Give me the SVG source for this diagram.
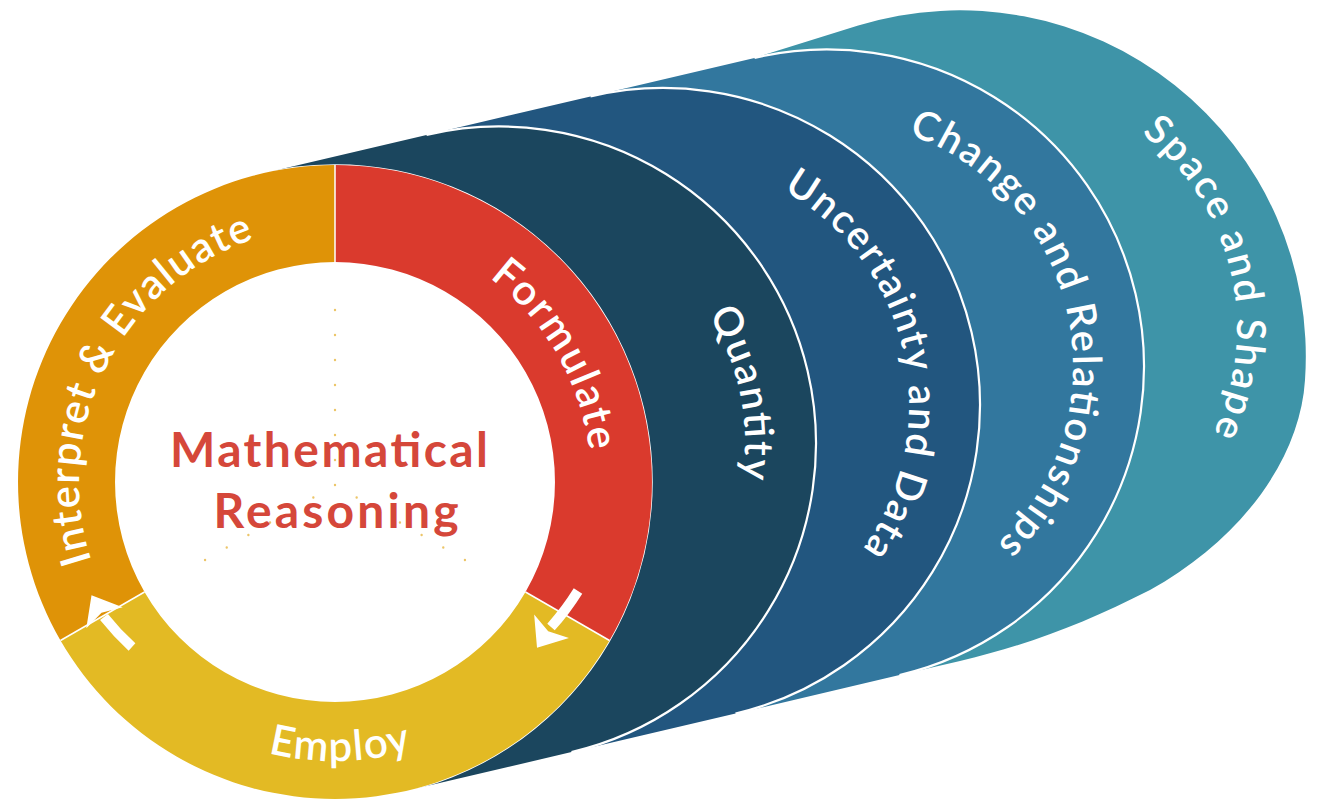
<svg xmlns="http://www.w3.org/2000/svg" width="1327" height="800" viewBox="0 0 1327 800">
  <style>
    .lbl{font-family:Lato,"Open Sans","Liberation Sans",sans-serif;font-weight:600;fill:#ffffff}
    .band-lbl{font-size:40px}
    .ring-lbl{font-size:42px}
    .edge{fill:none;stroke:#ffffff;stroke-width:2.2}
    .sep{stroke:#ffffff;stroke-width:1.5}
    .title{font-family:Lato,"Open Sans","Liberation Sans",sans-serif;font-weight:700;font-size:48px;fill:#D5473A;text-anchor:middle}
    .dots{fill:none;stroke:#E6B236;stroke-width:2.4;stroke-linecap:round;stroke-dasharray:0 25;opacity:.75}
    .shaft{fill:none;stroke:#ffffff;stroke-width:10}
  </style>
  <defs>
    <!-- arrowhead pointing along +x, tip at x=25 -->
    <path id="arrowhead" d="M25,0 L-1,-21 L5,0 L-1,21 Z" fill="#ffffff"/>
    <!-- label baselines -->
    <path id="tp-quantity" d="M615.4,226.8 A246,246 0 0 1 692.2,595.8"/>
    <path id="tp-uncertainty" d="M737.0,170.4 A246,246 0 0 1 829.2,586.4"/>
    <path id="tp-change" d="M860.2,122.7 A246,246 0 0 1 958.3,574.5"/>
    <path id="tp-space" d="M1060.9,92.1 A246,246 0 0 1 1160.3,506.4"/>
    <path id="tp-formulate" d="M379.5,229.9 A256,256 0 0 1 575.6,569.6"/>
    <path id="tp-interpret" d="M120.8,622.2 A256,256 0 0 1 320.7,226.4"/>
    <path id="tp-employ" d="M124.4,665.1 A279,279 0 0 0 551.8,657.6"/>
  </defs>

  <!-- content bands, back to front -->
  <g id="band-space">
    <path d="M754.5,57.9 L858.2,25.6 A346,346 0 0 1 1305,380 C1300,460 1240,540 1150,590 C1085,623 1030,644.5 960,660.9 L899.5,675.1 Z" fill="#3E94A8"/>
    <text class="lbl band-lbl"><textPath href="#tp-space" startOffset="50%" text-anchor="middle" textLength="333" lengthAdjust="spacing">Space and Shape</textPath></text>
  </g>
  <g id="band-change">
    <path d="M590.5,96.4 L754.5,57.9 A317,317 0 1 1 899.5,675.1 L735.5,713.6 Z" fill="#32779E"/>
    <path class="edge" d="M754.5,57.9 A317,317 0 1 1 899.5,675.1"/>
    <text class="lbl band-lbl"><textPath href="#tp-change" startOffset="50%" text-anchor="middle" textLength="502" lengthAdjust="spacing">Change and Relationships</textPath></text>
  </g>
  <g id="band-uncertainty">
    <path d="M426.5,134.9 L590.5,96.4 A317,317 0 1 1 735.5,713.6 L571.5,752.1 Z" fill="#22567F"/>
    <path class="edge" d="M590.5,96.4 A317,317 0 1 1 735.5,713.6"/>
    <text class="lbl band-lbl"><textPath href="#tp-uncertainty" startOffset="50%" text-anchor="middle" textLength="415" lengthAdjust="spacing">Uncertainty and Data</textPath></text>
  </g>
  <g id="band-quantity">
    <path d="M262.5,173.4 L426.5,134.9 A317,317 0 1 1 571.5,752.1 L407.5,790.6 Z" fill="#1B465E"/>
    <path class="edge" d="M426.5,134.9 A317,317 0 1 1 571.5,752.1"/>
    <text class="lbl band-lbl"><textPath href="#tp-quantity" startOffset="50%" text-anchor="middle" textLength="171" lengthAdjust="spacing">Quantity</textPath></text>
  </g>

  <!-- process ring -->
  <g id="ring">
    <circle cx="335" cy="482" r="317" fill="#ffffff" stroke="#ffffff" stroke-width="1.5"/>
    <g id="formulate">
      <path d="M335,165 A317,317 0 0 1 609.5,640.5 L525.5,592 A220,220 0 0 0 335,262 Z" fill="#DA3A2D"/>
      <text class="lbl ring-lbl"><textPath href="#tp-formulate" startOffset="50%" text-anchor="middle" textLength="205" lengthAdjust="spacing">Formulate</textPath></text>
    </g>
    <g id="employ">
      <path d="M609.5,640.5 A317,317 0 0 1 60.5,640.5 L144.5,592 A220,220 0 0 0 525.5,592 Z" fill="#E3BA24"/>
      <text class="lbl ring-lbl"><textPath href="#tp-employ" startOffset="50%" text-anchor="middle" textLength="145" lengthAdjust="spacing">Employ</textPath></text>
    </g>
    <g id="interpret">
      <path d="M60.5,640.5 A317,317 0 0 1 335,165 L335,262 A220,220 0 0 0 144.5,592 Z" fill="#DF9307"/>
      <text class="lbl ring-lbl"><textPath href="#tp-interpret" startOffset="50%" text-anchor="middle" textLength="400" lengthAdjust="spacing">Interpret &amp; Evaluate</textPath></text>
    </g>
    <line class="sep" x1="335" y1="165" x2="335" y2="262"/>
    <line class="sep" x1="609.5" y1="640.5" x2="525.5" y2="592"/>
    <line class="sep" x1="60.5" y1="640.5" x2="144.5" y2="592"/>
  </g>

  <!-- centre -->
  <g id="center">
    <path class="dots" d="M335,485 L335,285 M335,485 L205,560 M335,485 L465,560"/>
    <text class="title" x="329" y="467" textLength="318" lengthAdjust="spacing">Mathematical</text>
    <text class="title" x="336" y="528" textLength="245" lengthAdjust="spacing">Reasoning</text>
  </g>

  <!-- cycle arrows -->
  <g id="connectors">
    <g id="arrow-formulate-employ">
      <path class="shaft" d="M578,591 A262,262 0 0 1 551,627"/>
      <use href="#arrowhead" transform="translate(551,627) rotate(124)"/>
    </g>
    <g id="arrow-employ-interpret">
      <path class="shaft" d="M132,647 A263,263 0 0 1 104,617"/>
      <use href="#arrowhead" transform="translate(104,617) rotate(-120)"/>
    </g>
  </g>
</svg>
